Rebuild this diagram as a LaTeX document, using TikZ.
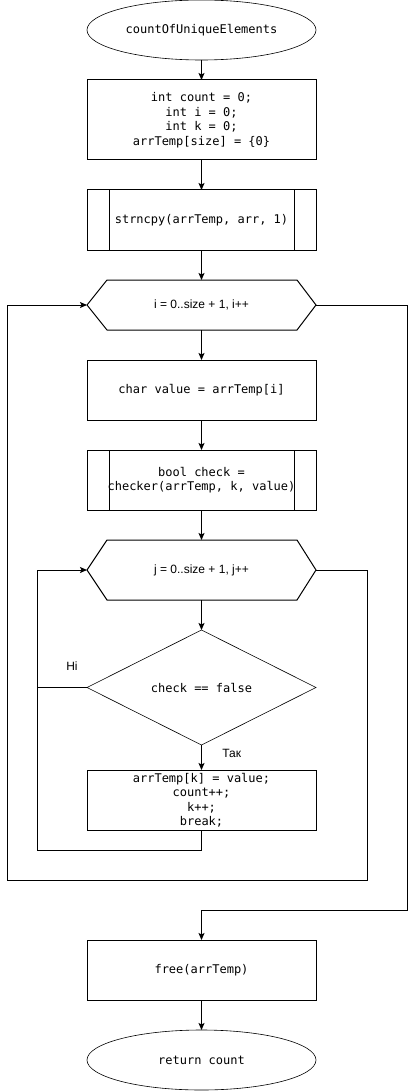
\documentclass[tikz,border=0pt]{standalone}
\usepackage{fontspec}
\usepackage{tikz}
\usetikzlibrary{arrows.meta,positioning,shapes.geometric}

\newfontfamily\codefont{DejaVu Sans Mono}
\newfontfamily\labelfont{Liberation Sans}

% hexagon outline round a loop node
\newcommand{\loopframe}[1]{%
    \draw (#1.west) -- ([xshift=20pt]#1.north west)
        -- ([xshift=-19pt]#1.north east) -- (#1.east)
        -- ([xshift=-19pt]#1.south east)
        -- ([xshift=20pt]#1.south west) -- cycle;}

\begin{document}
\begin{tikzpicture}[
    x=1pt, y=1pt,
    line width=1pt,
    node distance=30pt,
    terminal/.style={
        ellipse,
        draw=black,
        line width=0.6pt,
        minimum width=229pt,
        minimum height=60pt,
        inner sep=0pt,
        outer sep=0pt,
        font=\codefont\fontsize{12}{14.5}\selectfont
    },
    box/.style={
        rectangle,
        draw=black,
        minimum width=229pt,
        minimum height=60pt,
        inner sep=0pt,
        outer sep=0pt,
        align=center,
        font=\codefont\fontsize{12}{14.5}\selectfont
    },
    subbox/.style={
        box,
        path picture={
            \draw ([xshift=22pt]path picture bounding box.north west)
                -- ([xshift=22pt]path picture bounding box.south west);
            \draw ([xshift=-22pt]path picture bounding box.north east)
                -- ([xshift=-22pt]path picture bounding box.south east);
        }
    },
    loopbox/.style={
        rectangle,
        minimum width=229pt,
        minimum height=50pt,
        inner sep=0pt,
        outer sep=0pt,
        font=\labelfont\fontsize{12}{14}\selectfont
    },
    decision/.style={
        diamond,
        draw=black,
        line width=0.6pt,
        aspect=2,
        minimum width=229pt,
        minimum height=115pt,
        inner sep=0pt,
        outer sep=0pt,
        font=\codefont\fontsize{12}{14.5}\selectfont
    },
    lbl/.style={
        font=\labelfont\fontsize{12}{14}\selectfont
    },
    arrow/.style={
        -{Stealth[length=7pt,width=6pt,inset=1.5pt]}
    }
]

\useasboundingbox (0,0) rectangle (416,-1091);

% ---------------- TOP ----------------

\node[terminal] (start) at (201.5,-30)
    {countOfUniqueElements};

\node[box, minimum height=80pt, below=20pt of start] (init)
    {int count = 0;\\int i = 0;\\int k = 0;\\arrTemp[size] = \{0\}};

\node[subbox, below=of init] (copy)
    {strncpy(arrTemp, arr, 1)};

% ---------------- OUTER LOOP ----------------

\node[loopbox, below=of copy] (iloop)
    {i = 0..size + 1, i++};
\loopframe{iloop}

\node[box, below=of iloop] (value)
    {char value = arrTemp[i]};

\node[subbox, below=of value] (check)
    {bool check =\\checker(arrTemp, k, value)};

% ---------------- INNER LOOP ----------------

\node[loopbox, minimum height=60pt, below=of check] (jloop)
    {j = 0..size + 1, j++};
\loopframe{jloop}

\node[decision, below=of jloop] (isfalse)
    {check == false};

\node[box, below=25pt of isfalse] (update)
    {arrTemp[k] = value;\\count++;\\k++;\\break;};

% ---------------- BOTTOM ----------------

\node[box, below=110pt of update] (free)
    {free(arrTemp)};

\node[terminal, below=of free] (stop)
    {return count};


\draw[arrow] (start) -- (init);
\draw[arrow] (init) -- (copy);
\draw[arrow] (copy) -- (iloop);
\draw[arrow] (iloop) -- (value);
\draw[arrow] (value) -- (check);
\draw[arrow] (check) -- (jloop);
\draw[arrow] (jloop) -- (isfalse);

\draw[arrow] (isfalse)
    -- node[lbl, right, xshift=17pt, yshift=4.5pt]{Так}
    (update);

\draw (isfalse.west)
    -- node[lbl, pos=0.3, above=13pt]{Ні}
    ++(-50pt,0);

\draw[arrow] (update.south) -- ++(0,-20pt)
    -| ([xshift=-50pt]jloop.west) -- (jloop.west);

\draw[arrow] (jloop.east) -- ++(51pt,0) -- ++(0,-310pt)
    -| ([xshift=-80pt]iloop.west) -- (iloop.west);

\draw[arrow] (iloop.east) -- ++(91pt,0) -- ++(0,-605pt)
    -| (free.north);

\draw[arrow] (free) -- (stop);

\end{tikzpicture}
\end{document}
